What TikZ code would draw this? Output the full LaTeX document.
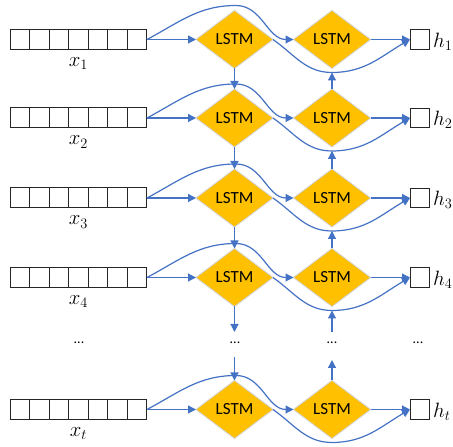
\documentclass[tikz,border=0pt]{standalone}
\usepackage{fontspec}
\setmainfont{Carlito}
\usetikzlibrary{shapes.geometric,arrows.meta}
\definecolor{lblue}{HTML}{4472C4}
\definecolor{gold}{HTML}{FFC000}
\begin{document}
\begin{tikzpicture}[x=1pt,y=1pt,
  cell/.style={draw=black!85, line width=1pt, minimum width=19.57pt, minimum height=20pt, inner sep=0pt, outer sep=0pt},
  lstm/.style={diamond, fill=gold, draw=black!18, line width=0.8pt, minimum width=77pt, minimum height=58pt, inner sep=0pt, outer sep=0pt, font=\fontsize{17}{20}\selectfont},
  hbox/.style={draw=black!85, line width=1pt, minimum size=19.5pt, inner sep=0pt, outer sep=0pt},
  mlabel/.style={inner sep=0pt, font=\fontsize{22}{26}\selectfont},
  dotlabel/.style={inner sep=0pt, font=\fontsize{14}{16}\selectfont},
  conn/.style={draw=lblue, line width=1.2pt, -{Triangle[length=8pt,width=8pt]}},
]
\useasboundingbox (0,0) rectangle (453,447);
\foreach \i/\y/\l in {1/407.5/1, 2/329/2, 3/249/3, 4/169.5/4, 5/37.5/t}{
  \foreach \c in {0,...,6}{
    \node[cell] (s\i-\c) at ({19.785+19.57*\c}, \y) {};
  }
  \node[mlabel] (x\i) at (78.5, \y-24) {$x_{\l}$};
  \node[lstm] (a\i) at (234.5, \y) {LSTM};
  \node[lstm] (b\i) at (332, \y) {LSTM};
  \node[hbox] (h\i) at (419.75, \y) {};
  \node[mlabel, anchor=west] (hl\i) at (433, \y-2) {$h_{\l}$};
  \coordinate (p\i) at (236, \y+34);
  \coordinate (q\i) at (332, \y-33);
  \draw[conn] (s\i-6.east) -- (a\i.west);
  \draw[conn] (s\i-6.east) to[out=28,in=180] (p\i) to[out=0,in=180] (b\i.west);
  \draw[conn] (a\i.east) to[out=-35,in=180] (q\i) to[out=0,in=210] (h\i.west);
  \draw[conn] (b\i.east) -- (h\i.west);
}
\foreach \i/\j in {1/2, 2/3, 3/4}{
  \draw[conn] (a\i.south) -- (a\j.north);
  \draw[conn] (b\j.north) -- (q\i);
}
\coordinate (ad1) at (234.5, 115);
\coordinate (ad2) at (234.5, 90);
\coordinate (bd1) at (332, 115);
\coordinate (bd2) at (332, 87);
\draw[conn] (a4.south) -- (ad1);
\draw[conn] (ad2) -- (a5.north);
\draw[conn] (bd1) -- (q4);
\draw[conn] (b5.north) -- (bd2);
\node[dotlabel] (d1) at (79, 104) {...};
\node[dotlabel] (d2) at (235, 104) {...};
\node[dotlabel] (d3) at (332, 104) {...};
\node[dotlabel] (d4) at (418, 104) {...};
\end{tikzpicture}
\end{document}
